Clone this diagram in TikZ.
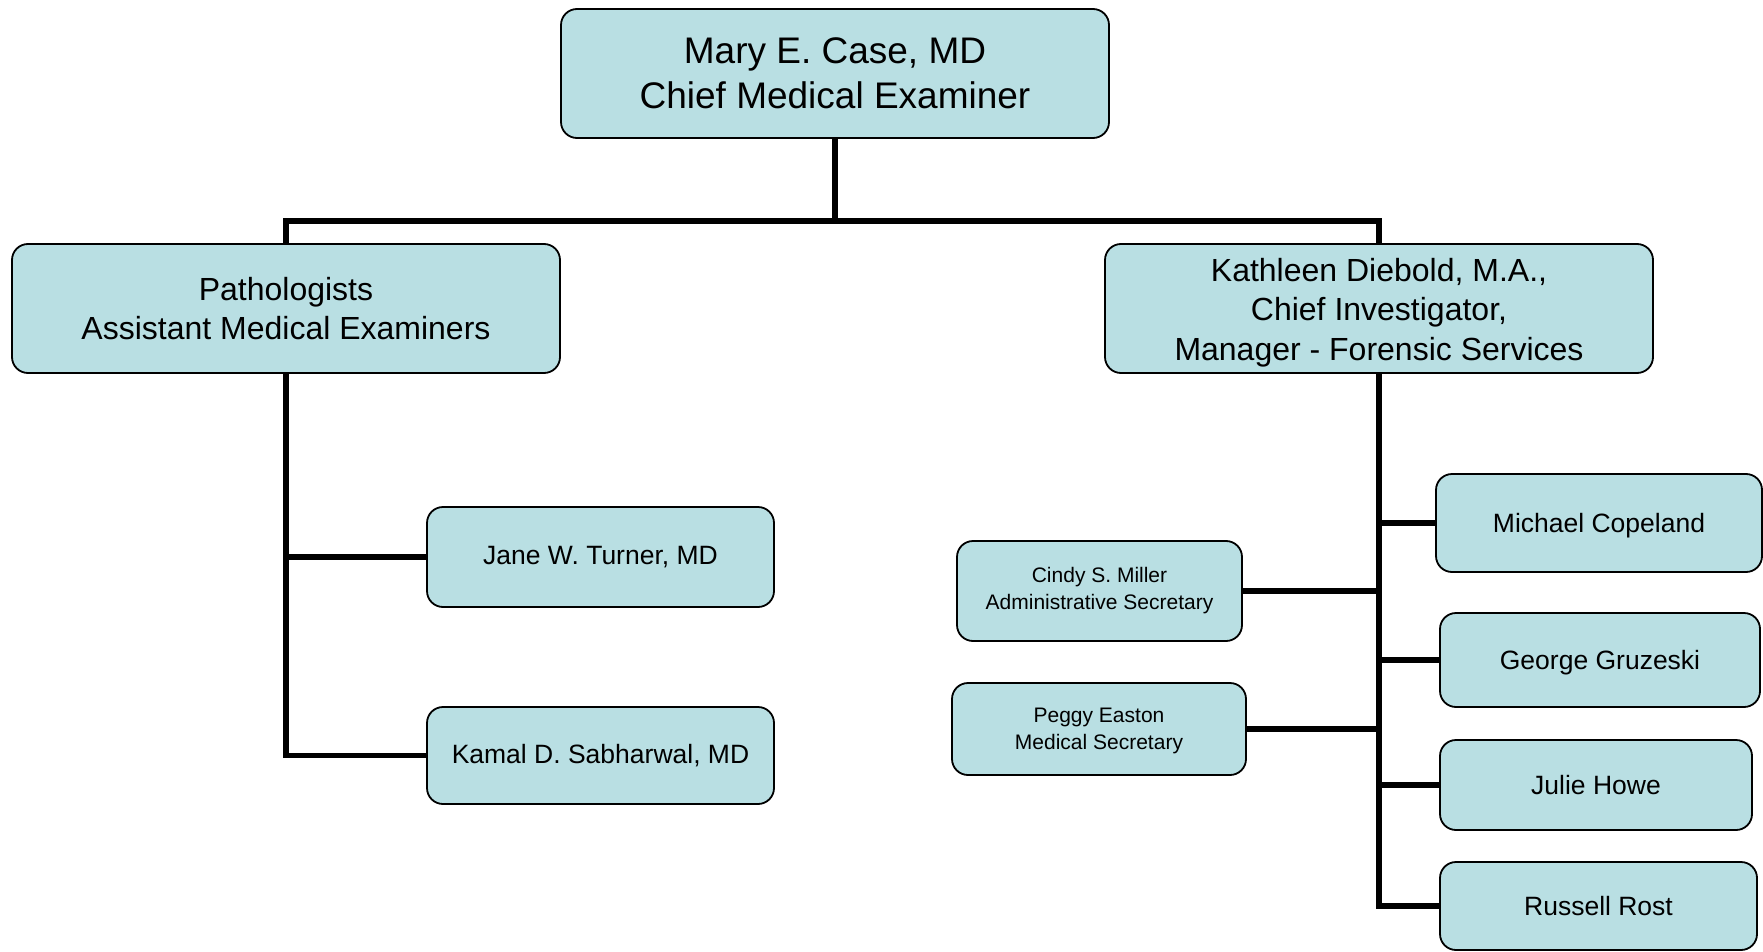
\documentclass[tikz,border=0pt]{standalone}
\usepackage{fontspec}
\setmainfont{Liberation Sans}
\definecolor{boxfill}{RGB}{185,223,227}
\begin{document}
\begin{tikzpicture}[x=1pt,y=-1pt,
  box/.style={draw=black,line width=1.8pt,fill=boxfill,rounded corners=16pt,
    inner sep=0pt,align=center,text=black},
  fa/.style={box,font=\fontsize{37}{45}\selectfont},
  fb/.style={box,font=\fontsize{32}{39.5}\selectfont},
  fc/.style={box,font=\fontsize{26.5}{32}\selectfont},
  fd/.style={box,font=\fontsize{21}{27}\selectfont},
  conn/.style={line width=5.5pt,draw=black}]
\useasboundingbox (0,0) rectangle (1763,952);
\coordinate (bar) at (835,221);
\node[fa,minimum width=548pt,minimum height=129pt] (top) at (835,73.5) {Mary E. Case, MD\\Chief Medical Examiner};
\node[fb,minimum width=548pt,minimum height=129pt] (path) at (286,308.5) {Pathologists\\Assistant Medical Examiners};
\node[fb,minimum width=548pt,minimum height=129pt] (kath) at (1379,308.5) {\rule{0pt}{31pt}Kathleen Diebold, M.A.,\\Chief Investigator,\\Manager - Forensic Services};
\node[fc,minimum width=347pt,minimum height=100pt] (jane) at (600.5,557) {Jane W. Turner, MD};
\node[fc,minimum width=347pt,minimum height=97pt] (kamal) at (600.5,755.5) {Kamal D. Sabharwal, MD};
\node[fc,minimum width=326pt,minimum height=98pt,text depth=0pt] (michael) at (1599,523) {Michael Copeland};
\node[fd,minimum width=285pt,minimum height=100pt] (cindy) at (1099.5,591) {Cindy S. Miller\\Administrative Secretary};
\node[fd,minimum width=294pt,minimum height=92pt] (peggy) at (1099,729) {\rule{0pt}{19pt}Peggy Easton\\Medical Secretary};
\node[fc,minimum width=320pt,minimum height=94pt,text depth=0pt] (george) at (1600,660) {George Gruzeski};
\node[fc,minimum width=312pt,minimum height=90pt] (julie) at (1596,785) {Julie Howe};
\node[fc,minimum width=317pt,minimum height=88pt] (russell) at (1598.5,906) {Russell Rost};
\draw[conn] (top.south) -- (bar);
\draw[conn] (path.north) |- (bar) -| (kath.north);
\draw[conn] (path.south) |- (kamal.west);
\draw[conn] (path.south |- jane.west) -- (jane.west);
\draw[conn] (kath.south) |- (russell.west);
\draw[conn] (kath.south |- michael.west) -- (michael.west);
\draw[conn] (kath.south |- george.west) -- (george.west);
\draw[conn] (kath.south |- julie.west) -- (julie.west);
\draw[conn] (kath.south |- cindy.east) -- (cindy.east);
\draw[conn] (kath.south |- peggy.east) -- (peggy.east);
\end{tikzpicture}
\end{document}
